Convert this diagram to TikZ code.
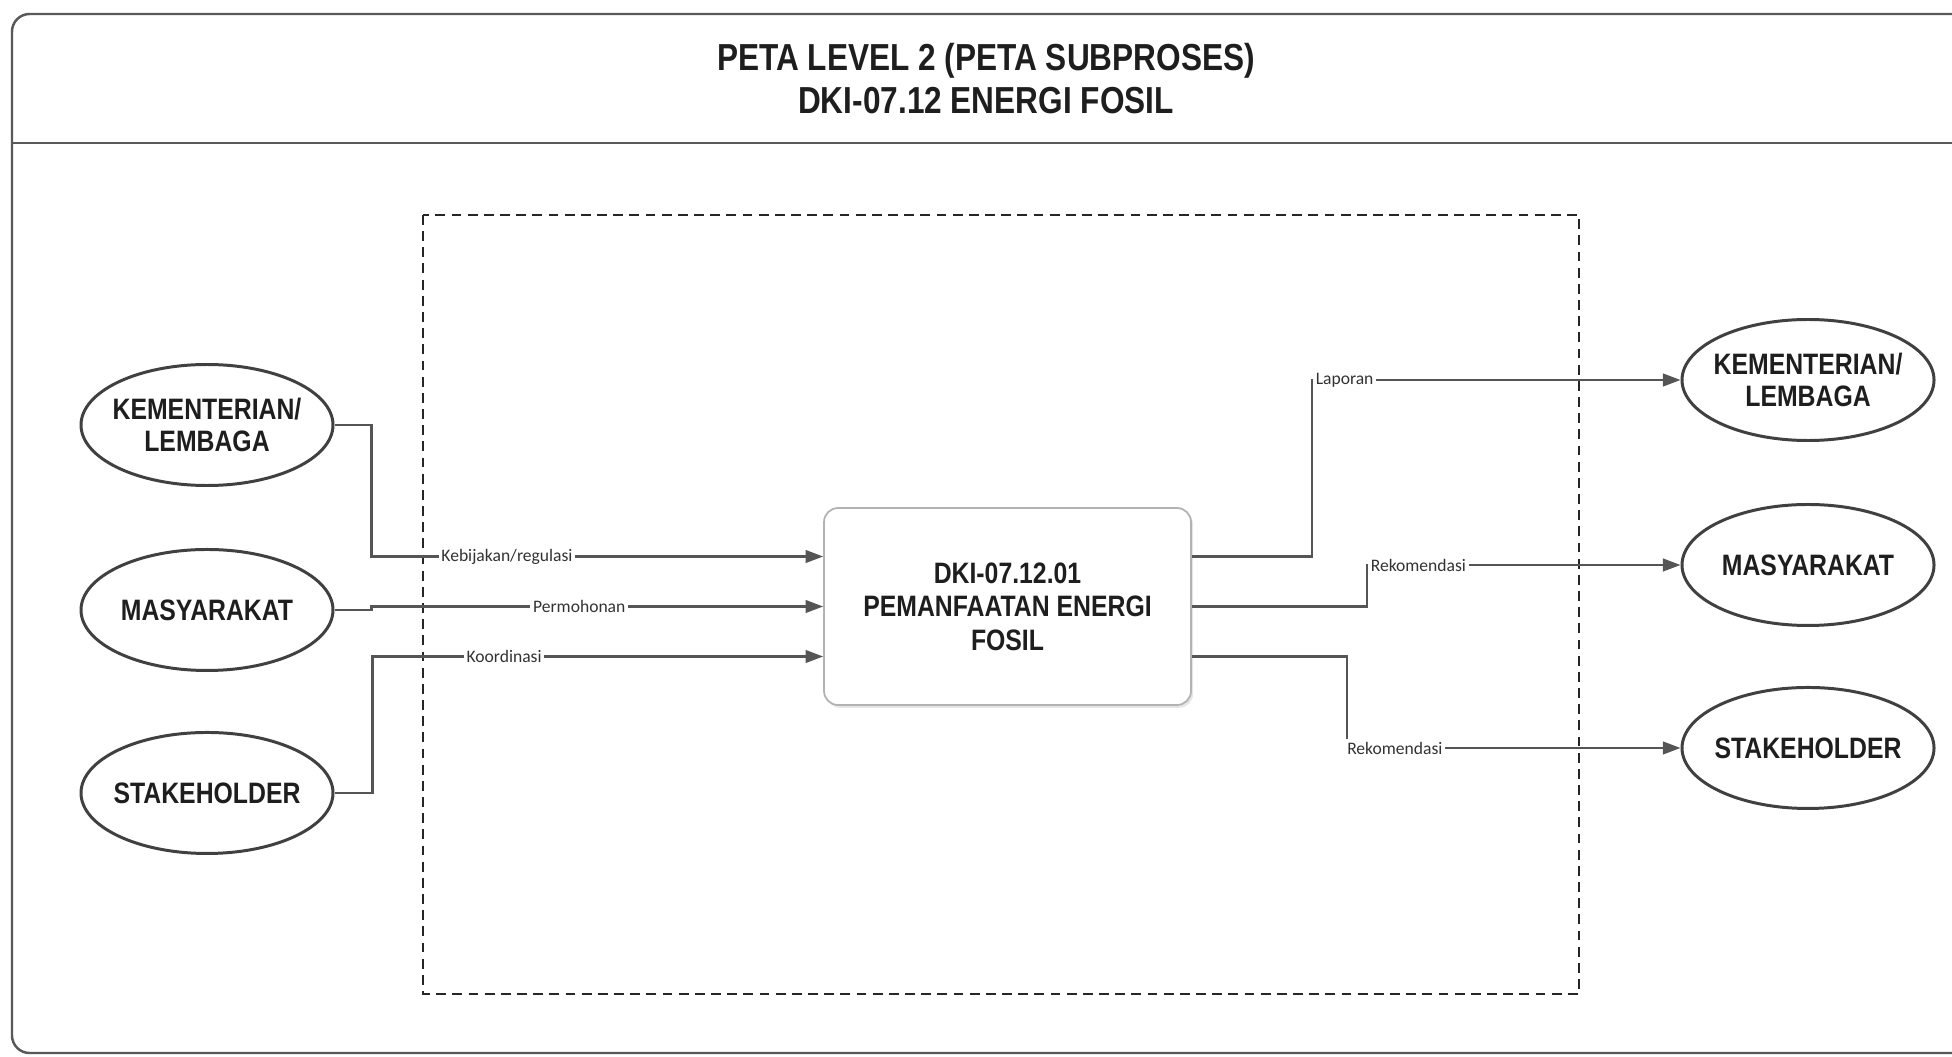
\documentclass[tikz,border=0pt]{standalone}
\usepackage{fontspec}
\setmainfont{Liberation Sans}
\newfontfamily\narrowfont[FakeStretch=0.84]{Liberation Sans}
\newfontfamily\flowfont{Carlito}
\usepackage{tikz}
\usetikzlibrary{shapes.geometric, positioning, arrows.meta, shadows}
\definecolor{linegray}{HTML}{555555}
\definecolor{inkgray}{HTML}{1E1E1E}

\begin{document}
\begin{tikzpicture}[
  >={Triangle[length=5pt,width=3.6pt]},
  frame/.style={draw=black!65, line width=0.7pt},
  boundary/.style={draw=black!85, line width=0.45pt, dash pattern=on 2.8pt off 1.8pt},
  actor/.style={ellipse, draw=black!75, line width=0.85pt, minimum width=2.52cm, minimum height=1.21cm,
    inner xsep=-2mm, inner ysep=0pt, align=center, text=inkgray,
    font=\narrowfont\bfseries\fontsize{8.4}{9.2}\selectfont},
  proc/.style={draw=black!30, line width=0.5pt, rounded corners=4pt, fill=white,
    minimum width=3.67cm, minimum height=1.97cm, align=center, text=inkgray,
    drop shadow={shadow xshift=0.6pt, shadow yshift=-0.8pt, opacity=0.2},
    font=\narrowfont\bfseries\fontsize{8.4}{9.5}\selectfont},
  flow/.style={draw=linegray, line width=0.6pt, ->},
  lbl/.style={font=\flowfont\fontsize{5}{6}\selectfont, text=black!80, fill=white, inner sep=0.8pt}
]
  \useasboundingbox (0,0) rectangle (19.52,-10.57);

  % outer frame and title
  \draw[frame, rounded corners=5pt] (0.12,-0.14) rectangle (19.70,-10.53);
  \draw[frame] (0.12,-1.43) -- (19.52,-1.43);
  \node[align=center, text=inkgray, font=\narrowfont\bfseries\fontsize{10.7}{12.2}\selectfont]
    (title) at (9.86,-0.785) {PETA LEVEL 2 (PETA SUBPROSES)\\DKI-07.12 ENERGI FOSIL};

  % scope boundary
  \draw[boundary] (4.23,-2.15) rectangle (15.79,-9.94);

  % subprocess
  \node[proc] (pemanfaatan) at (10.075,-6.065) {DKI-07.12.01\\PEMANFAATAN ENERGI\\FOSIL};

  % suppliers
  \node[actor] (kemenIn) at (2.07,-4.25) {KEMENTERIAN/\\LEMBAGA};
  \node[actor, below=0.61cm of kemenIn] (masyIn) {MASYARAKAT};
  \node[actor, below=0.59cm of masyIn] (stakeIn) {STAKEHOLDER};

  % customers
  \node[actor] (kemenOut) at (18.08,-3.80) {KEMENTERIAN/\\LEMBAGA};
  \node[actor, below=0.61cm of kemenOut] (masyOut) {MASYARAKAT};
  \node[actor, below=0.59cm of masyOut] (stakeOut) {STAKEHOLDER};

  % inputs
  \draw[flow] (kemenIn.east) -- ++(0.37,0) |- ([yshift=5mm]pemanfaatan.west)
    node[lbl, pos=0.65] {Kebijakan/regulasi};
  \draw[flow] (masyIn.east) -- ++(0.37,0) |- (pemanfaatan.west)
    node[lbl, pos=0.73] {Permohonan};
  \draw[flow] (stakeIn.east) -- ++(0.38,0) |- ([yshift=-5mm]pemanfaatan.west)
    node[lbl, pos=0.646] {Koordinasi};

  % outputs
  \draw[flow] ([yshift=5mm]pemanfaatan.east) -- ++(1.20,0) |- (kemenOut.west)
    node[lbl, pos=0.5, anchor=west] {Laporan};
  \draw[flow] (pemanfaatan.east) -- ++(1.75,0) |- (masyOut.west)
    node[lbl, pos=0.5, anchor=west] {Rekomendasi};
  \draw[flow] ([yshift=-5mm]pemanfaatan.east) -- ++(1.55,0) |- (stakeOut.west)
    node[lbl, pos=0.5, anchor=west, xshift=-1pt] {Rekomendasi};
\end{tikzpicture}
\end{document}
